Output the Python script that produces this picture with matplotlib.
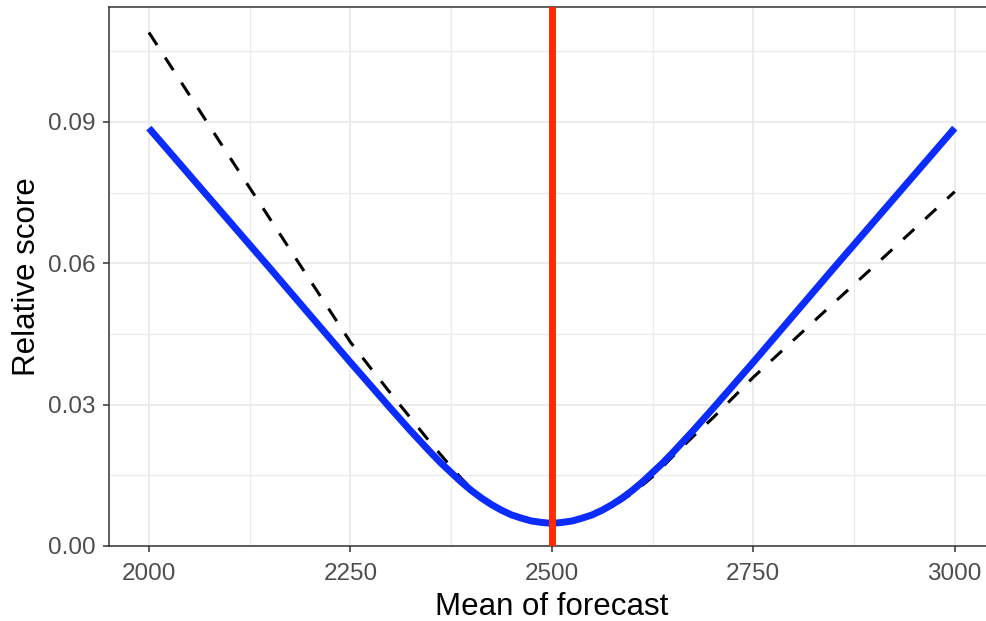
import numpy as np
import matplotlib
matplotlib.use('Agg')
import matplotlib.pyplot as plt
from matplotlib.ticker import MultipleLocator

plt.rcParams['font.family'] = ['Liberation Sans', 'DejaVu Sans']

# values
mean_fc = [2000, 2050, 2100, 2150, 2200, 2250, 2275, 2300, 2325, 2350, 2362.5, 2375,
           2387.5, 2400, 2412.5, 2425, 2437.5, 2450, 2462.5, 2475, 2487.5, 2500,
           2512.5, 2525, 2537.5, 2550, 2562.5, 2575, 2587.5, 2600, 2612.5, 2625,
           2637.5, 2650, 2675, 2700, 2725, 2750, 2800, 2850, 2900, 2950, 3000]
score_blue = [0.0887, 0.0788, 0.0689, 0.0590, 0.0490, 0.0390, 0.0341, 0.0292, 0.0244,
              0.0198, 0.0176, 0.0156, 0.0136, 0.0118, 0.0102, 0.0088, 0.0076, 0.0066,
              0.0059, 0.0053, 0.0050, 0.0048, 0.0050, 0.0053, 0.0059, 0.0066, 0.0076,
              0.0088, 0.0102, 0.0118, 0.0136, 0.0156, 0.0176, 0.0198, 0.0244, 0.0292,
              0.0341, 0.0390, 0.0490, 0.0590, 0.0689, 0.0788, 0.0887]
score_dash = [0.1090, 0.0958, 0.0826, 0.0695, 0.0564, 0.0433, 0.0378, 0.0324, 0.0271,
              0.0218, 0.0193, 0.0168, 0.0144, 0.0122, 0.0105, 0.0090, 0.0078, 0.0067,
              0.0059, 0.0053, 0.0050, 0.0048, 0.0049, 0.0052, 0.0057, 0.0064, 0.0073,
              0.0084, 0.0097, 0.0112, 0.0129, 0.0147, 0.0168, 0.0190, 0.0232, 0.0272,
              0.0315, 0.0358, 0.0437, 0.0516, 0.0594, 0.0673, 0.0752]
true_value = 2500

fig = plt.figure(figsize=(9.86, 6.21), dpi=100)
ax = fig.add_axes([108.6/986, 75/621, (995-108.6)/986, (546-7)/621])

ax.plot(mean_fc, score_dash, color='black', lw=2.2, linestyle=(0, (4.9, 4.9)), zorder=3)
ax.plot(mean_fc, score_blue, color='#0a2cff', lw=5, solid_capstyle='butt',
        solid_joinstyle='round', zorder=4)
ax.axvline(true_value, color='#ff2a00', lw=5, zorder=5)

ax.set_xlim(1950, 3050)
ax.set_ylim(0, 0.1144)
ax.set_xticks([2000, 2250, 2500, 2750, 3000])
ax.set_yticks([0.0, 0.03, 0.06, 0.09])
ax.set_yticklabels(['0.00', '0.03', '0.06', '0.09'])
ax.xaxis.set_minor_locator(MultipleLocator(125))
ax.yaxis.set_minor_locator(MultipleLocator(0.015))

# theme_bw look
ax.grid(which='major', color='#ebebeb', lw=1.3, zorder=0)
ax.grid(which='minor', color='#ebebeb', lw=0.9, zorder=0)
ax.set_axisbelow(True)
for s in ax.spines.values():
    s.set_color('#333333')
    s.set_linewidth(1.1)
ax.tick_params(which='major', length=4.5, width=1.1, color='#333333',
               labelcolor='#4d4d4d', labelsize=17.5, pad=5)
ax.tick_params(axis='x', which='major', pad=8)
ax.tick_params(which='minor', length=0)

ax.set_xlabel('Mean of forecast', fontsize=22.5, labelpad=5)
ax.set_ylabel('Relative score', fontsize=22.5, labelpad=4)

plt.savefig('out.png', dpi=100)
